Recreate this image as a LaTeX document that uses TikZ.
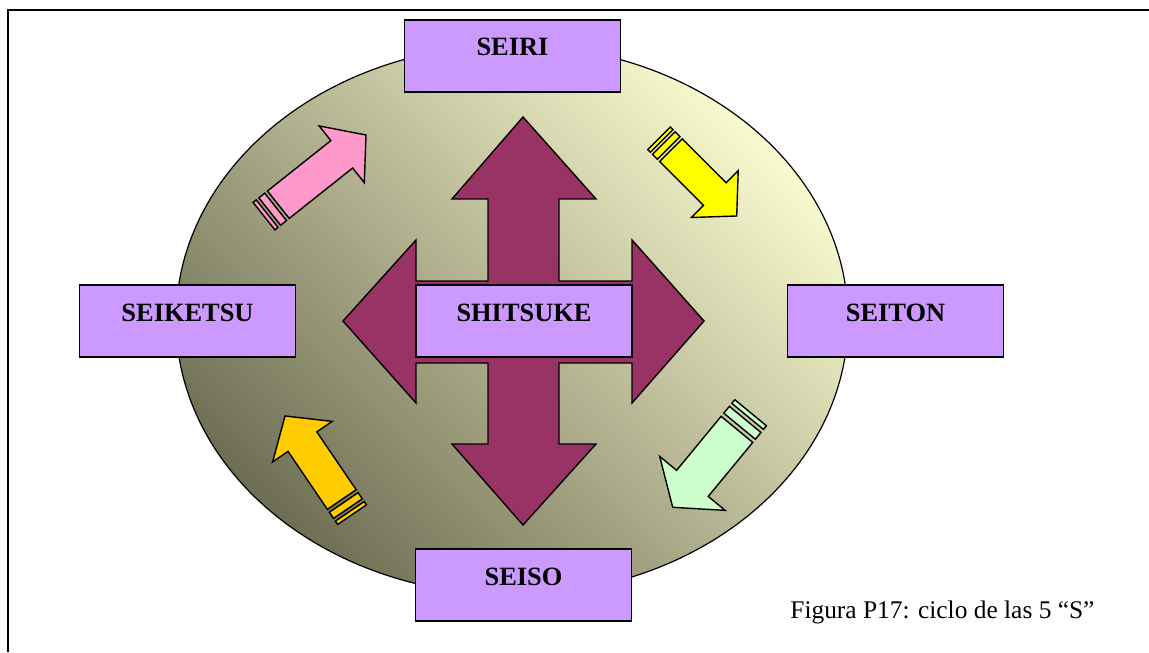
\documentclass[tikz,border=0pt]{standalone}
\usepackage{fontspec}
\setmainfont{Liberation Serif}
\usepackage{xcolor}
\definecolor{boxpurple}{HTML}{CC99FF}
\definecolor{crossplum}{HTML}{993366}
\definecolor{ovallight}{HTML}{FAFAD0}
\definecolor{ovaldark}{HTML}{6E6E54}
\definecolor{arrowpink}{HTML}{FF99CC}
\definecolor{arrowyellow}{HTML}{FFFF00}
\definecolor{arrowmint}{HTML}{CCFFCC}
\definecolor{arrowgold}{HTML}{FFCC00}

% striped arrow: tip x, tip y, angle, body length, half shaft width, fill
\newcommand{\stripedarrow}[6]{%
  \begin{scope}[shift={(#1,#2)}, rotate=#3]
    \filldraw[sarrow, fill=#6] (0,0) -- (-31,{2.07*#5}) -- (-31,{#5}) -- ({-#4},{#5})
      -- ({-#4},{-#5}) -- (-31,{-#5}) -- (-31,{-2.07*#5}) -- cycle;
    \filldraw[sarrow, fill=#6] ({-#4-0.2*#5},{-#5}) rectangle ({-#4-0.63*#5},{#5});
    \filldraw[sarrow, fill=#6] ({-#4-0.82*#5},{-#5}) rectangle ({-#4-1.05*#5},{#5});
  \end{scope}}

\begin{document}
\begin{tikzpicture}[x=0.5pt, y=-0.5pt,
    sbox/.style={draw, line width=0.6pt, fill=boxpurple, minimum width=108pt, inner sep=0pt,
      text height=18pt, text depth=18pt, font=\fontsize{13.2}{15}\selectfont\bfseries},
    sarrow/.style={draw, line width=0.7pt, line join=miter},
    crossarrow/.style={draw, line width=0.7pt, fill=crossplum, line join=miter},
    oval/.style={draw, line width=0.6pt, top color=ovallight, bottom color=ovaldark, shading angle=-45}
  ]
    \useasboundingbox (0,0) rectangle (1149,652);
    % frame
    \draw[line width=1pt] (1149,10) -- (8,10) -- (8,652);

    % shaded oval behind everything
    \path[oval] (512,320) ellipse [x radius=336, y radius=275];

    % the four outer S
    \node[sbox] (seiri) at (512.5,56) {SEIRI};
    \node[sbox] (seiketsu) at (187.5,321) {SEIKETSU};
    \node[sbox] (seiton) at (895.5,321) {SEITON};
    \node[sbox] (seiso) at (523.5,585) {SEISO};

    % four-way arrow in the middle
    \filldraw[crossarrow] (523,117) -- (596,199) -- (559,199) -- (559,281) -- (632,281)
      -- (632,240) -- (704,321) -- (632,403) -- (632,363) -- (559,363) -- (559,444)
      -- (596,444) -- (523,525) -- (452,444) -- (488,444) -- (488,363) -- (416,363)
      -- (416,403) -- (343,321) -- (416,240) -- (416,281) -- (488,281) -- (488,199)
      -- (452,199) -- cycle;
    \node[sbox] (shitsuke) at (524,321) {SHITSUKE};

    % cycle arrows
    \stripedarrow{366}{135}{38.5}{112}{17.5}{arrowpink}
    \stripedarrow{736.7}{216}{-45}{93}{16}{arrowyellow}
    \stripedarrow{672.7}{507.3}{230.5}{101}{20.5}{arrowmint}
    \stripedarrow{285}{416}{124.2}{101}{17.4}{arrowgold}

    \node[anchor=base west, inner sep=0pt, font=\fontsize{12.7}{15}\selectfont] (caption) at (790,618)
      {Figura P17: ciclo de las 5 “S”};
\end{tikzpicture}
\end{document}
